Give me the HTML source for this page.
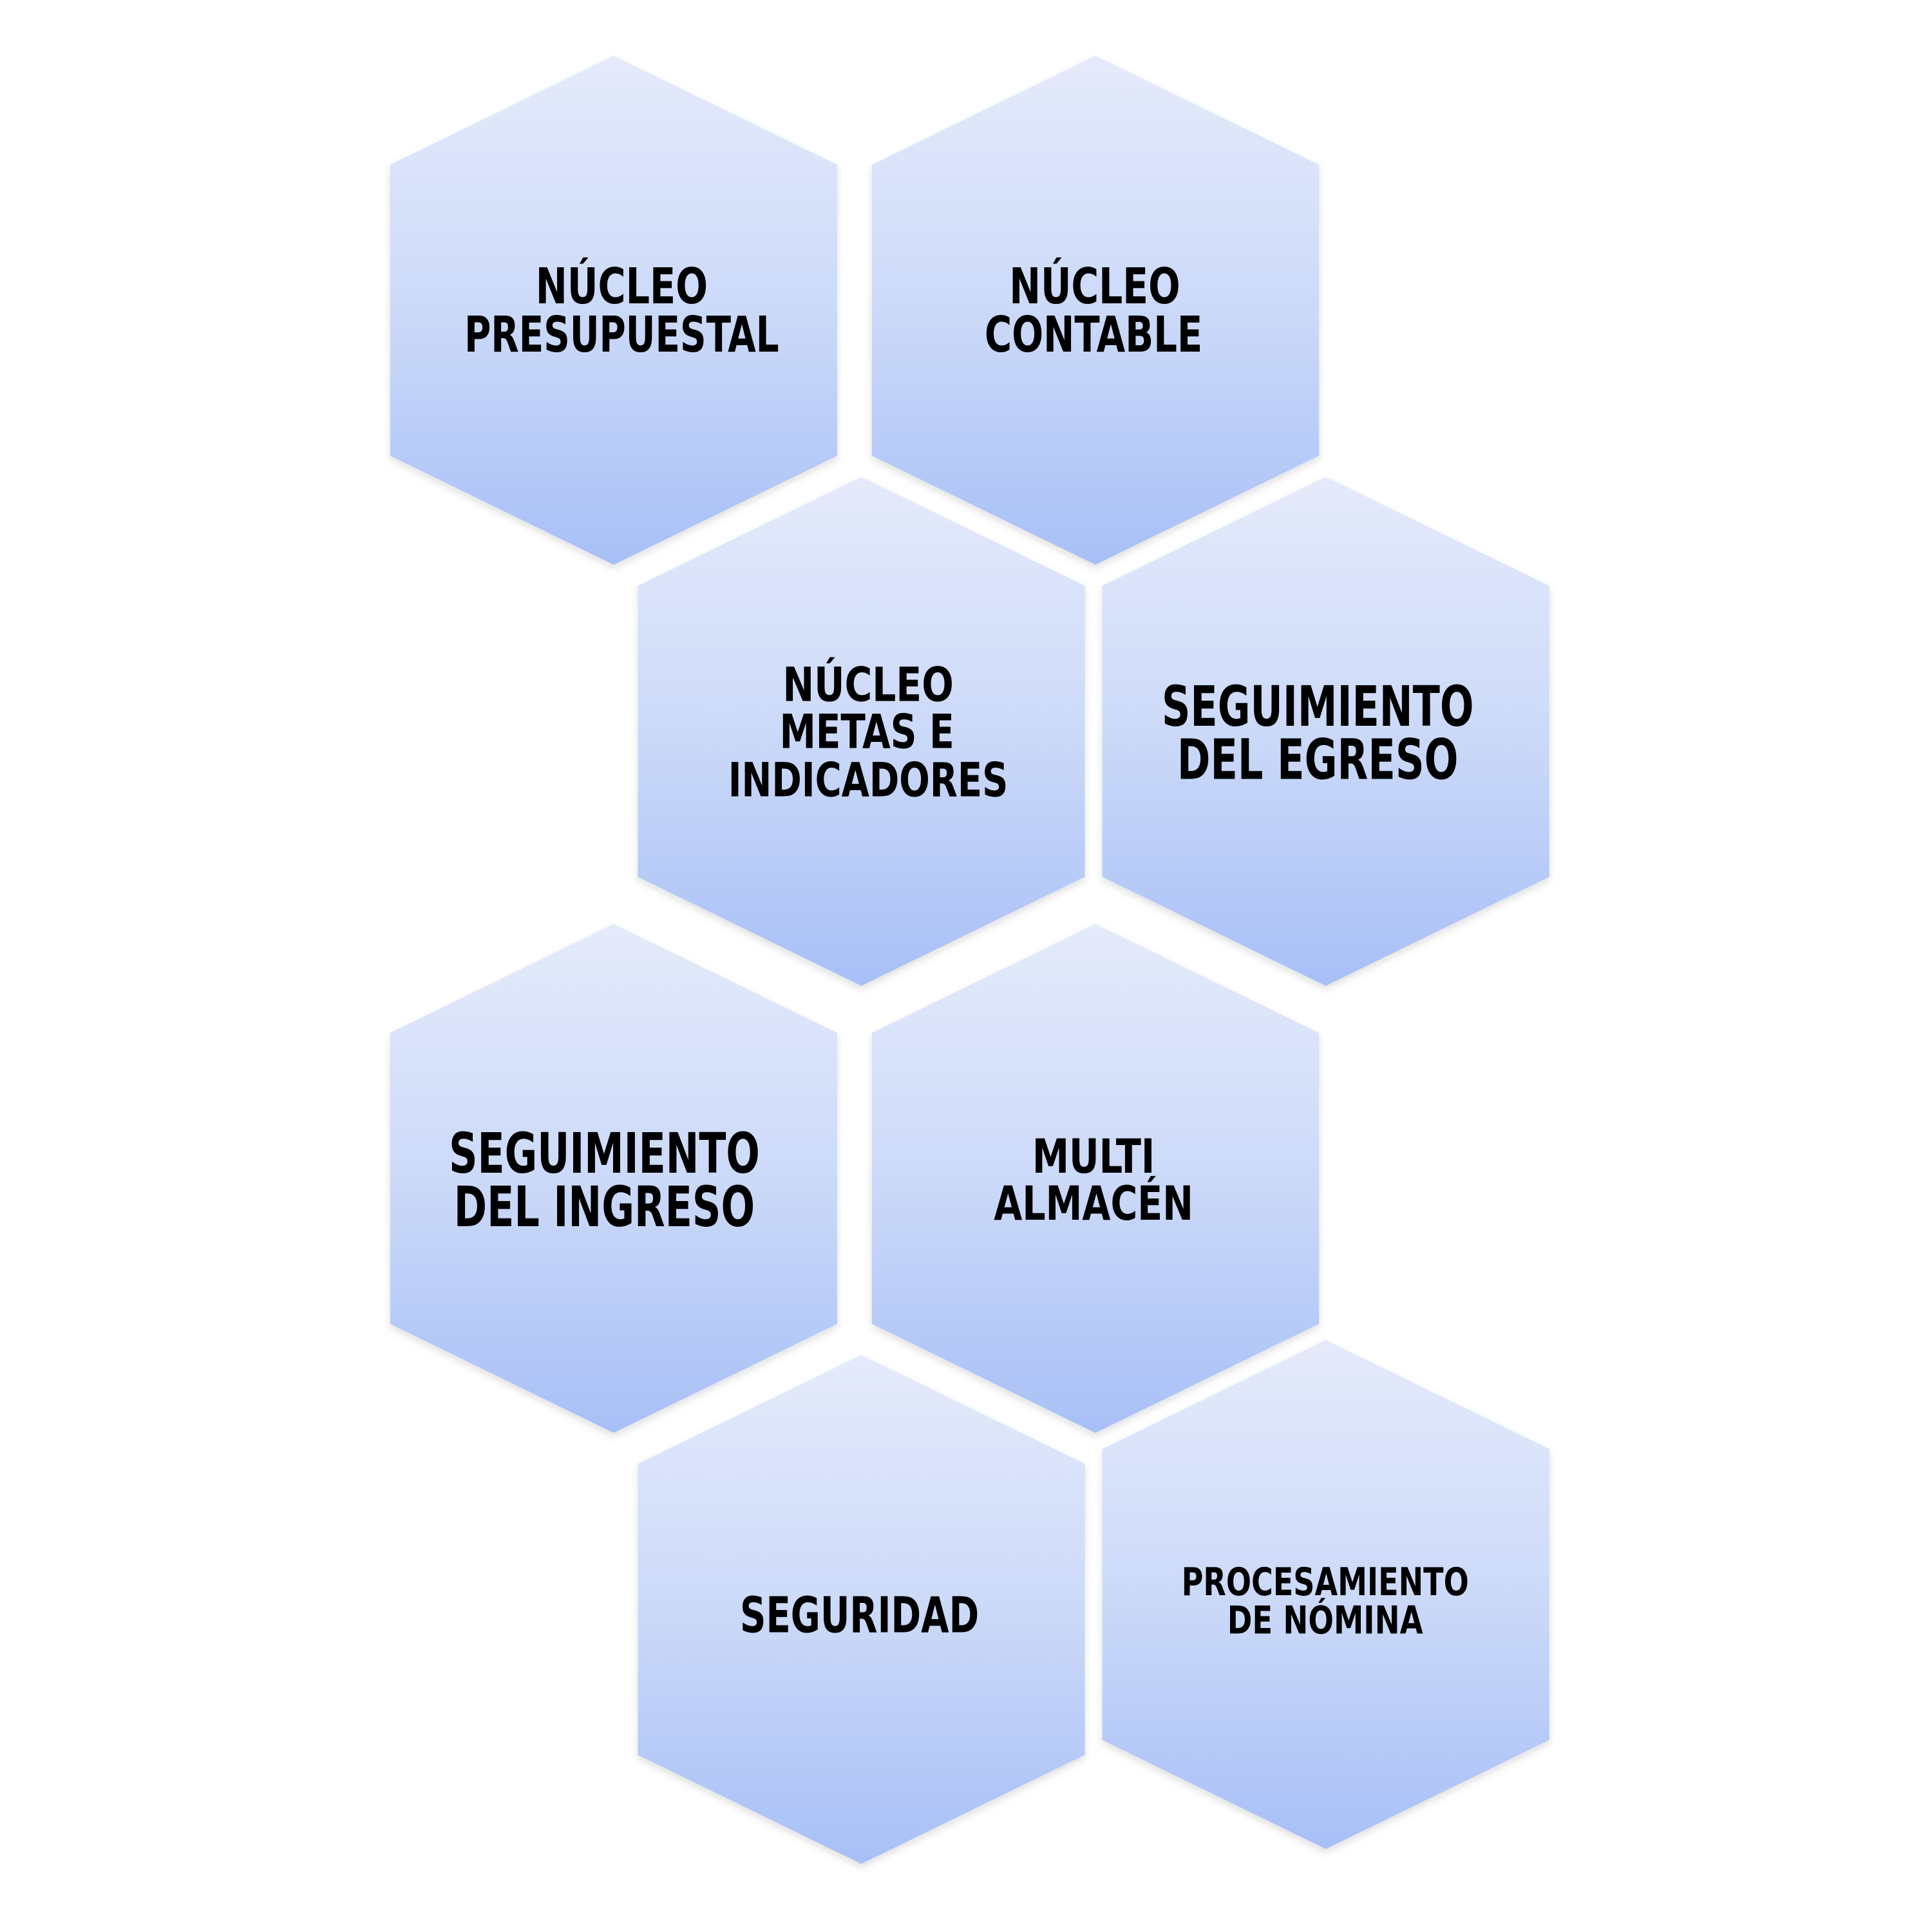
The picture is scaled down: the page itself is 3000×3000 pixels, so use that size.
<!DOCTYPE html>
<html><head><meta charset="utf-8"><style>
html,body{margin:0;padding:0;background:#fff;}
svg{display:block;}
text{font-family:"DejaVu Sans Condensed","DejaVu Sans","Liberation Sans",sans-serif;fill:#000;text-anchor:middle;font-weight:bold;}
</style></head><body>
<svg width="3000" height="3000" viewBox="0 0 1560 1560" xmlns="http://www.w3.org/2000/svg">
<defs>
<linearGradient id="g" x1="0" y1="0" x2="0" y2="1">
<stop offset="0" stop-color="#e5ebfb"/>
<stop offset="0.5" stop-color="#ccdaf9"/>
<stop offset="1" stop-color="#a8c0f7"/>
</linearGradient>
<filter id="s" x="-10%" y="-10%" width="120%" height="120%">
<feDropShadow dx="0" dy="3" stdDeviation="3" flood-color="#000" flood-opacity="0.12"/>
</filter>
<polygon id="h" points="180.5,0 361,88 361,323 180.5,411 0,323 0,88"/>
</defs>
<g filter="url(#s)" fill="url(#g)">
<use href="#h" x="315" y="45"/>
<use href="#h" x="704" y="45"/>
<use href="#h" x="515" y="385"/>
<use href="#h" x="890" y="385"/>
<use href="#h" x="315" y="746"/>
<use href="#h" x="704" y="746"/>
<use href="#h" x="515" y="1094"/>
<use href="#h" x="890" y="1082"/>
</g>
<g font-size="40">
<text x="502" y="245" textLength="139" lengthAdjust="spacingAndGlyphs">NÚCLEO</text>
<text x="502" y="284" textLength="254" lengthAdjust="spacingAndGlyphs">PRESUPUESTAL</text>
<text x="884" y="245" textLength="138" lengthAdjust="spacingAndGlyphs">NÚCLEO</text>
<text x="883" y="284" textLength="176" lengthAdjust="spacingAndGlyphs">CONTABLE</text>
</g>
<g font-size="38">
<text x="701" y="566" textLength="138" lengthAdjust="spacingAndGlyphs">NÚCLEO</text>
<text x="700" y="604" textLength="141" lengthAdjust="spacingAndGlyphs">METAS E</text>
<text x="701" y="643" textLength="226" lengthAdjust="spacingAndGlyphs">INDICADORES</text>
</g>
<g font-size="45">
<text x="1064" y="586" textLength="252" lengthAdjust="spacingAndGlyphs">SEGUIMIENTO</text>
<text x="1064" y="629" textLength="227" lengthAdjust="spacingAndGlyphs">DEL EGRESO</text>
<text x="488" y="947" textLength="251" lengthAdjust="spacingAndGlyphs">SEGUIMIENTO</text>
<text x="488" y="990" textLength="243" lengthAdjust="spacingAndGlyphs">DEL INGRESO</text>
</g>
<g font-size="38">
<text x="883" y="947" textLength="99" lengthAdjust="spacingAndGlyphs">MULTI</text>
<text x="883" y="985" textLength="161" lengthAdjust="spacingAndGlyphs">ALMACÉN</text>
</g>
<text x="694" y="1318" font-size="40" textLength="193" lengthAdjust="spacingAndGlyphs">SEGURIDAD</text>
<g font-size="31">
<text x="1070" y="1288" textLength="232" lengthAdjust="spacingAndGlyphs">PROCESAMIENTO</text>
<text x="1070" y="1319" textLength="158" lengthAdjust="spacingAndGlyphs">DE NÓMINA</text>
</g>
</svg>
</body></html>
